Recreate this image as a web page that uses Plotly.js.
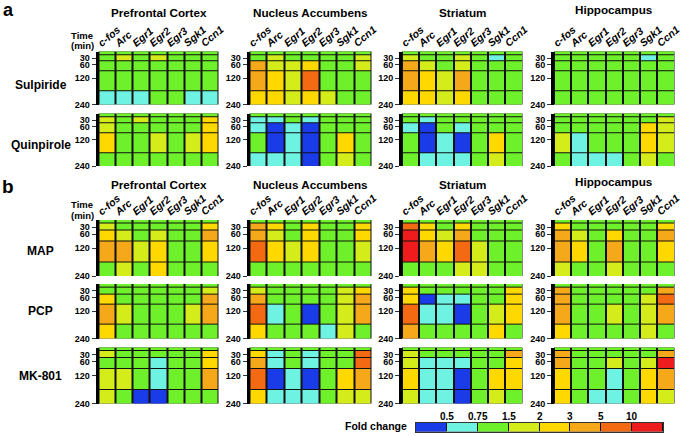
<!DOCTYPE html>
<html><head><meta charset="utf-8">
<script src="https://cdn.plot.ly/plotly-3.0.1.min.js"></script>
<style>html,body{margin:0;padding:0;background:#fff}#chart{width:683px;height:436px}</style>
</head><body><div id="chart"></div>
<script>
const genes = ['c-fos','Arc','Egr1','Egr2','Egr3','Sgk1','Ccn1'];
const times = [0, 30, 60, 120, 240];
const timeTicks = [30, 60, 120, 240];
const regions = ['Prefrontal Cortex','Nucleus Accumbens','Striatum','Hippocampus'];
const treatments = ['Sulpiride','Quinpirole','MAP','PCP','MK-801'];
const foldBreaks = [0.5, 0.75, 1.5, 2, 3, 5, 10];
const foldLabels = ['0.5','0.75','1.5','2','3','5','10'];
const binColors = ['#1a3ce8','#6ef2e2','#6ef02a','#d4ec1a','#ffd800','#f5a81a','#f36a12','#ee1c1c'];

// fold change per time (rows: 0,30,60,120,240 min) x gene (columns)
const sulpiridePFC = [[1,1,1,1,1,1,1],[1,1.8,1,1.8,1,1,1],[1,1,1,1,1,1,1],[1,1,1,1,1,1,1],[0.6,0.6,0.6,1,1,0.6,0.6]];
const sulpirideNAc = [[1,1,1,1,1,1,1],[1,1.8,1,1,1,1,1.8],[4,1.8,1.8,2.5,1,1,1.8],[4,2.5,1.8,7,1,1,1],[2.5,2.5,1.8,2.5,1.8,1,1]];
const sulpirideStr = [[1,1,1,1,1,1,1],[1.8,1,1,1.8,1,0.6,1],[4,1.8,1,1.8,1,1,1],[4,2.5,1.8,4,1,1,1],[2.5,2.5,1.8,2.5,1,1,1]];
const sulpirideHip = [[1,1,1,1,1,1,1],[1,1,1,1,1,0.6,1],[1,1,1,1,1,1,1],[1,1,1,1,1,1,1],[1,1,1,1,1,1,1]];

const quinpirolePFC = [[1,1,1,1,1,1,1],[1.8,1,1.8,1,1,1,2.5],[1.8,1,1,1,1,1,2.5],[2.5,1,1,1.8,1,1.8,2.5],[1,1,1,1,1,1,1]];
const quinpiroleNAc = [[1,1,1,1,1,1,1],[0.6,0.6,1,0.6,1,1,1],[0.6,0.4,0.6,0.4,1,1,1],[1,0.4,0.6,0.4,1,2.5,1],[0.6,0.6,0.6,0.4,1,1.8,1]];
const quinpiroleStr = [[1,1,1,1,1,1,1],[1,0.6,1,1,1,1,1],[0.6,0.4,1,0.6,1,1,1],[1,0.4,0.6,0.4,1,2.5,1],[1,0.6,0.6,0.6,1,1.8,1]];
const quinpiroleHip = [[1,1,1,1,1,1,1],[1,1,1,1,1,1,1.8],[1,1,1,1,1,2.5,1.8],[1.8,0.6,1,1,1,2.5,1.8],[1,0.6,0.6,0.6,1,1.8,1]];

const mapPFC = [[1,1,1,1,1,1,1],[1.8,1,1,1,1,1,2.5],[2.5,1.8,1,1.8,1,1,4],[4,4,1.8,2.5,1,1,2.5],[1,1.8,1,2.5,1,1,1]];
const mapNAc = [[1,1,1,1,1,1,1],[4,2.5,1,2.5,1,1,2.5],[4,1.8,1,2.5,1,1,2.5],[7,2.5,1.8,2.5,1,1,1.8],[1,1,1,1,1,1,1]];
const mapStr = [[1,1,1,1,1,1,1],[7,2.5,1,2.5,1,1,1],[12,2.5,1.8,4,1,1,1],[12,4,2.5,7,1.8,1,1],[1,1,1,1.8,1.8,1,1]];
const mapHip = [[1,1,1,1,1,1,1],[2.5,1,1,1,1,1,2.5],[4,1.8,1,2.5,1,1,4],[4,2.5,1,4,1,1,2.5],[1.8,1,1,1.8,1,1,1]];

const pcpPFC = [[1,1,1,1,1,1,1],[1,1,1,1,1,1,1.8],[2.5,1,1,1,1,1,4],[4,1.8,1,1,1,1.8,4],[2.5,1,1,1,1,1,1]];
const pcpNAc = [[1,1,1,1,1,1,1],[1.8,1,1,1,1,1.8,2.5],[4,1,1,1,1,1.8,4],[7,0.6,1,0.4,1,1.8,4],[2.5,1,1,1,0.6,1.8,1]];
const pcpStr = [[1,1,1,1,1,1,1],[2.5,1,1,1,1,1,2.5],[2.5,0.4,0.6,0.6,1,1,2.5],[7,0.6,0.6,0.4,1,1.8,2.5],[4,1,1,1,1,2.5,1]];
const pcpHip = [[1,1,1,1,1,1,1],[4,1,1,1,1,1,4],[4,1,1,1,1,1.8,7],[4,1,1,1.8,1,1.8,4],[2.5,1,1,1,1,1.8,1]];

const mk801PFC = [[1,1,1,1,1,1,1],[1.8,1,1,1,1,1,2.5],[1,1,1,0.6,1,1,2.5],[1.8,1.8,1,0.6,1,1,4],[1.8,1,0.4,0.4,1,1,1]];
const mk801NAc = [[1,1,1,1,1,1,1],[2.5,0.6,1,0.6,1,1,7],[4,0.6,1,0.6,1,1,7],[7,0.4,0.6,0.4,1,2.5,4],[2.5,0.6,0.6,0.6,1,1.8,1.8]];
const mk801Str = [[1,1,1,1,1,1,1],[1.8,1,1,1,1,1,4],[1.8,0.6,0.6,0.6,1,1,2.5],[2.5,0.6,0.6,0.4,1,2.5,2.5],[1.8,0.6,0.6,0.4,1,1.8,1]];
const mk801Hip = [[1,1,1,1,1,1,1],[4,1,1,1,1,1,4],[4,1,1,1.8,1,1.8,12],[2.5,1,1,0.6,1,2.5,4],[2.5,1,0.6,0.6,1,2.5,1.8]];

const panelData = [
  [sulpiridePFC, sulpirideNAc, sulpirideStr, sulpirideHip],
  [quinpirolePFC, quinpiroleNAc, quinpiroleStr, quinpiroleHip],
  [mapPFC, mapNAc, mapStr, mapHip],
  [pcpPFC, pcpNAc, pcpStr, pcpHip],
  [mk801PFC, mk801NAc, mk801Str, mk801Hip]
];

// ---------- layout geometry (pixels) ----------
const W = 683, H = 436;
const colX = [[98.5,218.5],[249.5,371.5],[402,522.5],[554,674.5]];
const rowY = [[51.5,104.5],[113.5,166],[220,276],[284,338.5],[347.5,403.5]];
const fx = p => p / W;
const fy = p => 1 - p / H;
const FONT = 'Liberation Sans, Arial, sans-serif';
const NARROW = 'Liberation Sans Narrow, Liberation Sans, Arial, sans-serif';

function binOf(v){ let b = 0; foldBreaks.forEach(t => { if (v >= t) b++; }); return b; }
const colorscale = [];
binColors.forEach((c,i) => { colorscale.push([i/8, c]); colorscale.push([(i+1)/8, c]); });

const data = [];
const layout = {
  width: W, height: H, margin: {l:0, r:0, t:0, b:0},
  paper_bgcolor: '#ffffff', plot_bgcolor: '#111111', showlegend: false,
  font: {family: FONT, color: '#000'},
  annotations: []
};

let n = 0;
for (let r = 0; r < treatments.length; r++) {
  for (let c = 0; c < regions.length; c++) {
    n++;
    const xa = 'x' + n, ya = 'y' + n;
    const z = panelData[r][c].map(row => row.map(binOf));
    data.push({
      type: 'heatmap', x: genes.map((g,i) => i), y: times, z: z,
      xaxis: xa, yaxis: ya, zmin: -0.5, zmax: 7.5, colorscale: colorscale,
      showscale: false, xgap: 2, ygap: 1, hoverinfo: 'skip'
    });
    const topRow = (r === 0 || r === 2);
    layout['xaxis' + n] = {
      domain: [fx(colX[c][0]), fx(colX[c][1])], anchor: ya, range: [-0.5, 6.5],
      showgrid: false, zeroline: false, showline: false, ticks: '',
      side: 'top', showticklabels: topRow, ticklabeloverflow: 'allow',
      tickvals: genes.map((g,i) => i - 0.5), ticktext: genes, tickangle: -40,
      tickfont: {family: FONT, size: 10.5, weight: 'bold', style: 'italic', color: '#000'}
    };
    layout['yaxis' + n] = {
      domain: [fy(rowY[r][1]), fy(rowY[r][0])], anchor: xa, range: [240, 0],
      showgrid: false, zeroline: false, showline: true, linewidth: 3, linecolor: '#000',
      ticks: 'outside', ticklen: 4, tickwidth: 1, tickcolor: '#333',
      tickvals: timeTicks, ticktext: timeTicks.map(String),
      tickfont: {family: NARROW, size: 9, weight: 'bold', color: '#000'}
    };
  }
}

// colour key
n++;
const keyX = 'x' + n, keyY = 'y' + n;
data.push({
  type: 'heatmap', x: binColors.map((c,i) => i), y: [0], z: [binColors.map((c,i) => i)],
  xaxis: keyX, yaxis: keyY, zmin: -0.5, zmax: 7.5, colorscale: colorscale,
  showscale: false, xgap: 1, hoverinfo: 'skip'
});
layout['xaxis' + n] = {
  domain: [fx(416), fx(663)], anchor: keyY, range: [-0.5, 7.5],
  showgrid: false, zeroline: false, showline: true, mirror: true, linewidth: 1, linecolor: '#333',
  ticks: '', showticklabels: false
};
layout['yaxis' + n] = {
  domain: [fy(431.5), fy(423)], anchor: keyX, range: [-0.5, 0.5],
  showgrid: false, zeroline: false, showline: true, mirror: true, linewidth: 1, linecolor: '#333',
  showticklabels: false, ticks: ''
};
foldLabels.forEach((l, i) => {
  layout.annotations.push({
    text: l, x: i + 0.5, xref: keyX, y: fy(416.5), yref: 'paper', showarrow: false,
    xanchor: 'center', yanchor: 'middle',
    font: {family: FONT, size: 10, weight: 'bold', color: '#000'}
  });
});

function ann(text, x, y, size, extra) {
  layout.annotations.push(Object.assign({
    text: text, x: fx(x), y: fy(y), xref: 'paper', yref: 'paper', showarrow: false,
    xanchor: 'center', yanchor: 'middle',
    font: {family: FONT, size: size, weight: 'bold', color: '#000'}
  }, extra || {}));
}

ann('a', 8, 9.5, 18);
ann('b', 8, 186, 19);
const titleY = [[12, 12, 12, 10], [184.5, 184.5, 184.5, 181.5]];
for (let c = 0; c < regions.length; c++) {
  const cx = (colX[c][0] + colX[c][1]) / 2;
  ann(regions[c], cx, titleY[0][c], 11.7);
  ann(regions[c], cx, titleY[1][c], 11.7);
}
ann('Time', 82, 35, 9.5);
ann('(min)', 82, 45, 9.5);
ann('Time', 82, 204.5, 9.5);
ann('(min)', 82, 215, 9.5);
const rowLabelY = [85, 144.5, 251, 311, 376];
treatments.forEach((t, i) => ann(t, 40.5, rowLabelY[i], 12));
ann('Fold change', 376, 426, 10.5);

Plotly.newPlot('chart', data, layout, {staticPlot: true, displayModeBar: false});
</script></body></html>
